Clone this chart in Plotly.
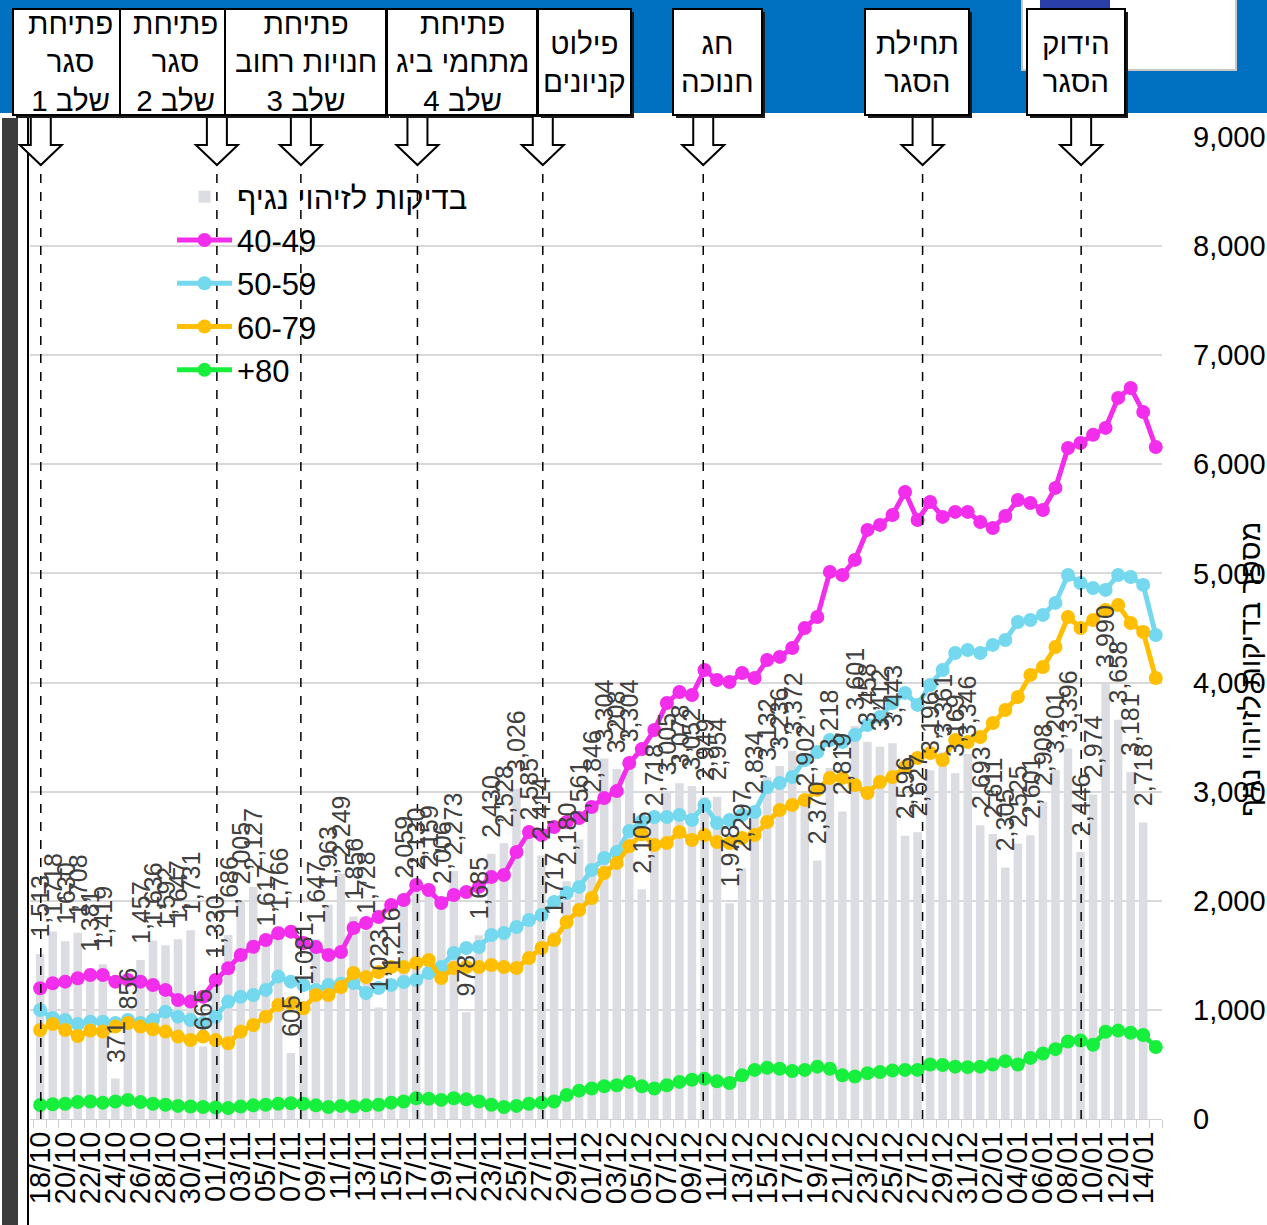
import plotly.graph_objects as go

dates = ["18/10","19/10","20/10","21/10","22/10","23/10","24/10","25/10","26/10","27/10","28/10","29/10","30/10","31/10",
         "01/11","02/11","03/11","04/11","05/11","06/11","07/11","08/11","09/11","10/11","11/11","12/11","13/11","14/11","15/11",
         "16/11","17/11","18/11","19/11","20/11","21/11","22/11","23/11","24/11","25/11","26/11","27/11","28/11","29/11","30/11",
         "01/12","02/12","03/12","04/12","05/12","06/12","07/12","08/12","09/12","10/12","11/12","12/12","13/12","14/12","15/12",
         "16/12","17/12","18/12","19/12","20/12","21/12","22/12","23/12","24/12","25/12","26/12","27/12","28/12","29/12","30/12","31/12",
         "01/01","02/01","03/01","04/01","05/01","06/01","07/01","08/01","09/01","10/01","11/01","12/01","13/01","14/01","15/01"]

tests = [1513,1718,1630,1708,1381,1419,371,856,1457,1636,1592,1647,1731,665,
         1330,1686,2005,2127,1617,1766,605,1081,1647,1963,2249,1856,1728,1023,1216,
         2059,2130,2159,2006,2273,978,1685,2430,2528,3026,2585,2414,1717,2180,2561,
         2846,3304,3208,3304,2105,2718,3005,3078,3052,2949,2954,1978,2297,2834,3132,
         3236,3372,2902,2370,3218,2819,3601,3458,3412,3443,2596,2627,3196,3361,3169,3346,
         2693,2611,2305,2525,2601,2908,3201,3396,2446,2974,3990,3658,3181,2718,None]

age_40_49 = [1198,1244,1259,1290,1320,1320,1259,1275,1259,1228,1183,1091,1076,1121,
             1274,1381,1503,1579,1641,1702,1717,1613,1577,1503,1530,1750,1796,1852,1961,
             2007,2145,2099,1980,2053,2081,2127,2218,2236,2447,2630,2603,2676,2722,2759,
             2860,2942,3005,3263,3390,3565,3813,3914,3886,4115,4024,4005,4088,4042,4207,
             4235,4317,4500,4601,5014,4986,5124,5399,5445,5536,5747,5490,5655,5518,5564,5564,
             5472,5417,5527,5673,5646,5582,5784,6150,6196,6270,6334,6609,6700,6480,6159]

age_50_59 = [999,925,907,871,892,892,880,907,880,907,984,938,907,880,
             938,1076,1121,1137,1183,1305,1259,1228,1183,1228,1240,1247,1155,1201,1228,
             1256,1274,1338,1393,1522,1567,1577,1686,1705,1760,1824,1870,1989,2071,2127,
             2282,2392,2447,2640,2730,2768,2768,2786,2741,2878,2713,2741,2786,2814,3043,
             3080,3135,3290,3364,3474,3455,3520,3611,3685,3813,3905,3795,3978,4115,4271,4299,
             4271,4345,4390,4555,4574,4620,4730,4986,4913,4867,4849,4986,4968,4895,4436]

age_60_79 = [816,871,816,761,810,801,847,880,847,822,801,755,724,755,
             724,694,801,862,938,1045,1060,1015,1137,1137,1210,1338,1302,1347,1393,
             1393,1430,1457,1292,1384,1393,1393,1412,1393,1384,1476,1567,1641,1806,1916,
             2026,2255,2346,2500,2610,2511,2530,2631,2557,2603,2539,2530,2576,2603,2722,
             2832,2878,2924,3016,3126,3126,3061,2988,3089,3135,3226,3309,3355,3290,3474,3455,
             3501,3630,3749,3868,4070,4143,4326,4601,4500,4574,4665,4711,4546,4464,4042]

age_80 = [128,135,140,155,160,150,160,175,155,140,130,120,115,110,
          105,100,115,125,130,140,145,140,125,110,120,115,125,130,150,
          160,190,185,175,190,180,160,130,110,120,140,150,160,220,260,
          280,300,310,340,300,280,310,340,360,370,345,330,400,450,470,
          460,440,450,480,460,400,390,420,430,445,450,450,500,495,480,475,
          480,500,530,500,560,600,640,710,720,680,800,810,790,770,660]

y_ticks = [0,1000,2000,3000,4000,5000,6000,7000,8000,9000]

events = [
    {"lines": ["פתיחת", "סגר", "שלב 1"], "day": 0.05, "box": (13, 127)},
    {"lines": ["פתיחת", "סגר", "שלב 2"], "day": 14.1, "box": (120, 230)},
    {"lines": ["פתיחת", "חנויות רחוב", "שלב 3"], "day": 20.8, "box": (225, 386)},
    {"lines": ["פתיחת", "מתחמי ביג", "שלב 4"], "day": 30.1, "box": (387, 537)},
    {"lines": ["פילוט", "קניונים"], "day": 40.1, "box": (538, 631)},
    {"lines": ["חג", "חנוכה"], "day": 52.9, "box": (673, 762)},
    {"lines": ["תחילת", "הסגר"], "day": 70.4, "box": (865, 969)},
    {"lines": ["הידוק", "הסגר"], "day": 83.05, "box": (1027, 1125)},
]

W, H = 1267, 1225
L, R, T, B = 30, 105, 137, 106
PW = W - L - R
PH = H - T - B
XR = [-0.81, 89.5]
FONT = "Liberation Sans, Arial, sans-serif"


def px2x(px):
    return (px - L) / PW


def py2y(py):
    return (H - B - py) / PH


def day2px(d):
    return L + (d - XR[0]) * PW / (XR[1] - XR[0])


fig = go.Figure()

fig.add_trace(go.Bar(
    x=dates, y=tests, name="בדיקות לזיהוי נגיף",
    marker=dict(color="#DCDDE2", line=dict(width=0)),
    width=0.68, cliponaxis=False,
))

series = [("40-49", age_40_49, "#F22EEC"), ("50-59", age_50_59, "#74D8EE"),
          ("60-79", age_60_79, "#FFBE00"), ("+80", age_80, "#16F03C")]
for name, vals, col in series:
    fig.add_trace(go.Scatter(
        x=dates, y=vals, name=name, mode="lines+markers",
        line=dict(color=col, width=5),
        marker=dict(color=col, size=14),
        cliponaxis=False,
    ))

shapes = []
annotations = []

# bar value labels (drawn above the lines, as in the reference)
for d, v in zip(dates, tests):
    if v is None:
        continue
    annotations.append(dict(xref="x", yref="y", x=d, y=v, text=f"{v:,}", showarrow=False,
                            textangle=-90, xanchor="center", yanchor="bottom", yshift=15,
                            borderpad=0, font=dict(size=25, color="#404040", family=FONT)))

shapes.append(dict(type="rect", xref="paper", yref="paper", x0=px2x(0), x1=px2x(W), y0=py2y(113), y1=py2y(0),
                   fillcolor="#0070C0", line=dict(width=0), layer="above"))
shapes.append(dict(type="rect", xref="paper", yref="paper", x0=px2x(1022), x1=px2x(1236), y0=py2y(70), y1=py2y(-5),
                   fillcolor="#FFFFFF", line=dict(color="#C8C8C8", width=2), layer="above"))
shapes.append(dict(type="rect", xref="paper", yref="paper", x0=px2x(1040), x1=px2x(1110), y0=py2y(10), y1=py2y(0),
                   fillcolor="#2A3FA8", line=dict(width=0), layer="above"))
shapes.append(dict(type="rect", xref="paper", yref="paper", x0=px2x(2), x1=px2x(18), y0=py2y(H), y1=py2y(118),
                   fillcolor="#3C3C3C", line=dict(width=0), layer="above"))
shapes.append(dict(type="line", xref="paper", yref="paper", x0=px2x(28), x1=px2x(28), y0=py2y(H), y1=py2y(118),
                   line=dict(color="#000000", width=2), layer="above"))

for ev in events:
    cx = day2px(ev["day"])
    bx0, bx1 = ev["box"]
    shapes.append(dict(type="line", xref="paper", yref="paper", x0=px2x(cx), x1=px2x(cx),
                       y0=py2y(H - B), y1=py2y(160), line=dict(color="#000000", width=1.5, dash="dash"),
                       layer="above"))
    sw, hw = 10, 21
    pts = [(cx - sw, 116), (cx + sw, 116), (cx + sw, 145), (cx + hw, 145), (cx, 165),
           (cx - hw, 145), (cx - sw, 145)]
    path = "M " + " L ".join(f"{px2x(a):.5f},{py2y(b):.5f}" for a, b in pts) + " Z"
    shapes.append(dict(type="path", xref="paper", yref="paper", path=path,
                       fillcolor="#FFFFFF", line=dict(color="#000000", width=2), layer="above"))
    shapes.append(dict(type="rect", xref="paper", yref="paper", x0=px2x(bx0 + 3), x1=px2x(bx1 + 3),
                       y0=py2y(118), y1=py2y(12), fillcolor="#1A1A1A", line=dict(width=0), layer="above"))
    shapes.append(dict(type="rect", xref="paper", yref="paper", x0=px2x(bx0), x1=px2x(bx1),
                       y0=py2y(115), y1=py2y(9), fillcolor="#FFFFFF", line=dict(color="#000000", width=2),
                       layer="above"))
    annotations.append(dict(xref="paper", yref="paper", x=px2x((bx0 + bx1) / 2), y=py2y(62),
                            text="<br>".join(ev["lines"]), showarrow=False, xanchor="center", yanchor="middle",
                            align="center", font=dict(size=29.5, color="#000000", family=FONT)))

annotations.append(dict(xref="paper", yref="paper", x=px2x(1250), y=py2y(670), text="מספר בדיקות לזיהוי נגיף",
                        showarrow=False, textangle=-90, xanchor="center", yanchor="middle",
                        font=dict(size=29, color="#000000", family=FONT)))

fig.update_layout(
    width=W, height=H, autosize=False,
    margin=dict(l=L, r=R, t=T, b=B, pad=0, autoexpand=False),
    paper_bgcolor="#FFFFFF", plot_bgcolor="#FFFFFF",
    font=dict(family=FONT, color="#000000"),
    showlegend=True,
    legend=dict(x=px2x(172), y=py2y(170), xanchor="left", yanchor="top", bgcolor="rgba(0,0,0,0)",
                font=dict(size=31, color="#000000", family=FONT), itemwidth=55, tracegroupgap=0),
    xaxis=dict(type="category", range=XR, tickmode="array", tickvals=dates, automargin=False,
               ticktext=[d if i % 2 == 0 else "" for i, d in enumerate(dates)],
               tickangle=-90, tickfont=dict(size=29, color="#000000", family=FONT),
               ticks="outside", ticklen=8, tickcolor="#D0D0D0", tickson="boundaries",
               showline=True, linecolor="#D0D0D0", linewidth=1, showgrid=False),
    yaxis=dict(side="right", range=[0, 9000], tickvals=y_ticks, tickformat=",", automargin=False,
               tickfont=dict(size=29, color="#000000", family=FONT), ticklabelstandoff=30,
               showgrid=True, gridcolor="#D9D9D9", gridwidth=2, zeroline=False, showline=False),
    shapes=shapes,
    annotations=annotations,
)

fig.write_html("out.html", config={"displayModeBar": False},
               post_script="document.body.style.margin='0px';document.body.style.overflow='hidden';")
